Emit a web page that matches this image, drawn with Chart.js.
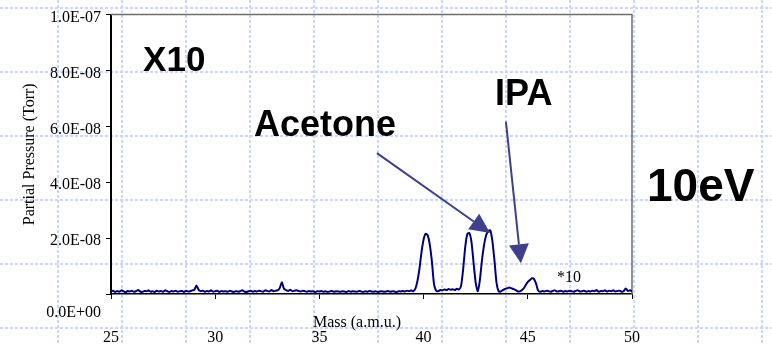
<!DOCTYPE html>
<html>
<head>
<meta charset="utf-8">
<script src="https://cdn.jsdelivr.net/npm/chart.js@4/dist/chart.umd.min.js"></script>
<style>
  html, body { margin: 0; padding: 0; background: #fff; }
  canvas { display: block; }
</style>
</head>
<body>
<canvas id="scan" width="772" height="345"></canvas>
<script>
// Mass scan sampling (a.m.u.)
const massStart = 25;
const massStep = 0.1;

// Partial pressure readings in 1E-09 Torr, one per 0.1 a.m.u. from 25.0 to 50.0
const pressure = [
  0.9, 1.2, 0.7, 1.1, 0.8, 1.3, 1.0, 0.6, 1.1, 0.9,   // 25
  1.2, 0.8, 1.0, 1.4, 0.9, 0.7, 1.1, 1.0, 1.3, 0.8,   // 26
  1.0, 0.7, 1.2, 0.9, 1.1, 0.8, 1.3, 1.0, 0.7, 1.1,   // 27
  0.9, 1.2, 0.8, 1.0, 1.1, 0.7, 1.2, 0.9, 1.0, 1.3,   // 28
  1.5, 3.0, 1.6, 1.0, 1.2, 0.8, 1.1, 0.9, 1.3, 0.8,   // 29
  1.0, 1.2, 0.7, 1.1, 0.9, 1.0, 0.8, 1.2, 0.9, 0.7,   // 30
  1.1, 0.8, 1.0, 1.3, 0.9, 0.7, 1.0, 1.2, 0.8, 1.1,   // 31
  0.9, 1.2, 1.0, 0.8, 1.3, 1.1, 0.9, 1.4, 1.0, 1.2,   // 32
  1.3, 2.2, 4.2, 1.9, 1.4, 1.1, 1.5, 1.0, 1.2, 1.3,   // 33
  1.1, 0.9, 1.2, 1.0, 0.8, 1.1, 0.9, 1.0, 0.7, 1.0,   // 34
  0.9, 1.1, 0.8, 1.0, 0.7, 0.9, 1.1, 0.8, 1.0, 0.9,   // 35
  0.8, 1.0, 0.9, 0.7, 1.1, 0.8, 1.0, 0.9, 0.8, 1.1,   // 36
  0.9, 0.7, 1.0, 0.8, 1.1, 0.9, 0.8, 1.0, 0.7, 0.9,   // 37
  1.0, 0.8, 0.9, 1.1, 0.8, 1.0, 0.9, 0.7, 1.0, 0.9,   // 38
  1.1, 0.9, 1.2, 1.0, 1.3, 1.0, 1.8, 4.5, 9.0, 15.0,  // 39
  19.5, 21.6, 21.0, 17.5, 11.5, 3.5, 1.2, 1.0, 1.4, 1.3, // 40
  1.6, 1.4, 1.8, 1.5, 1.7, 1.4, 1.9, 1.6, 3.0, 9.0,   // 41
  17.0, 21.5, 21.8, 18.5, 11.0, 4.0, 1.0, 5.0, 12.0, 17.5, // 42
  21.0, 22.5, 22.8, 19.0, 12.0, 4.0, 1.0, 0.9, 1.4, 1.8,   // 43
  2.0, 2.3, 2.1, 1.8, 1.5, 1.0, 0.9, 1.3, 2.0, 3.2,   // 44
  4.3, 5.0, 5.6, 5.3, 3.6, 1.2, 0.8, 1.1, 0.9, 1.2,   // 45
  1.0, 0.8, 1.1, 1.3, 0.9, 1.0, 1.2, 0.8, 1.1, 0.9,   // 46
  1.2, 1.0, 0.8, 1.1, 1.3, 0.9, 1.0, 1.2, 0.8, 1.1,   // 47
  0.9, 1.2, 1.0, 1.4, 0.8, 1.1, 1.0, 1.3, 0.9, 1.2,   // 48
  1.0, 1.3, 0.9, 1.1, 1.2, 0.8, 1.0, 2.0, 1.1, 1.3,   // 49
  1.0                                                // 50
];

// Axis ticks (mass in a.m.u., pressure in 1E-09 Torr) and their printed labels
const massTicks = [25, 30, 35, 40, 45, 50];
const pressureTicks = [0, 20, 40, 60, 80, 100];
const pressureTickLabels = ['0.0E+00', '2.0E-08', '4.0E-08', '6.0E-08', '8.0E-08', '1.0E-07'];

// Callout texts, anchored at (mass, pressure) positions
const calloutTexts = [
  { text: 'X10',     mass: 26.54, p: 79.8, size: 35 },
  { text: 'Acetone', mass: 31.86, p: 56.7, size: 36 },
  { text: 'IPA',     mass: 43.43, p: 67.7, size: 36 },
  { text: '10eV',    mass: 50.72, p: 33.3, size: 46 }
];
// Arrows pointing at the acetone and IPA peaks
const calloutArrows = [
  { from: [37.76, 50.4], to: [43.19, 21.8], head: 20, width: 19 },
  { from: [43.95, 61.7], to: [44.67, 11.0], head: 19, width: 20 }
];
// Gain note next to the IPA peak
const gainNote = { text: '*10', mass: 46.40, p: 4.3 };

const SANS = "'Liberation Sans', Arial, sans-serif";
const SERIF = "'Liberation Serif', 'Times New Roman', serif";

const points = pressure.map((p, i) => ({ x: +(massStart + i * massStep).toFixed(2), y: p }));

// Dotted slide grid behind everything
const slideGrid = {
  id: 'slideGrid',
  beforeDraw(chart) {
    const { ctx, width, height } = chart;
    ctx.save();
    ctx.fillStyle = '#ffffff';
    ctx.fillRect(0, 0, width, height);
    ctx.strokeStyle = '#cad6f6';
    ctx.lineWidth = 2;
    ctx.setLineDash([3, 2]);
    ctx.beginPath();
    for (let x = 58; x < width; x += 64) { ctx.moveTo(x, 0); ctx.lineTo(x, height); }
    for (let y = 8; y < height; y += 64) { ctx.moveTo(0, y); ctx.lineTo(width, y); }
    ctx.stroke();
    ctx.restore();
  }
};

// Grey frame on the top and right of the plot area
const plotFrame = {
  id: 'plotFrame',
  beforeDatasetsDraw(chart) {
    const { ctx, chartArea: a } = chart;
    ctx.save();
    ctx.strokeStyle = '#6e6e6e';
    ctx.lineWidth = 1.5;
    ctx.beginPath();
    ctx.moveTo(a.left, a.top);
    ctx.lineTo(a.right, a.top);
    ctx.lineTo(a.right, a.bottom);
    ctx.stroke();
    ctx.restore();
  }
};

// Callout labels, arrows and axis caption
const callouts = {
  id: 'callouts',
  afterDraw(chart) {
    const { ctx } = chart;
    const xs = chart.scales.x, ys = chart.scales.y;
    const px = m => xs.getPixelForValue(m);
    const py = p => ys.getPixelForValue(p);
    ctx.save();

    ctx.strokeStyle = '#3f408d';
    ctx.fillStyle = '#3f408d';
    ctx.lineWidth = 2;
    calloutArrows.forEach(a => {
      const x1 = px(a.from[0]), y1 = py(a.from[1]);
      const x2 = px(a.to[0]), y2 = py(a.to[1]);
      const ang = Math.atan2(y2 - y1, x2 - x1);
      const bx = x2 - a.head * Math.cos(ang), by = y2 - a.head * Math.sin(ang);
      ctx.beginPath();
      ctx.moveTo(x1, y1);
      ctx.lineTo(bx, by);
      ctx.stroke();
      const hw = a.width / 2;
      ctx.beginPath();
      ctx.moveTo(x2, y2);
      ctx.lineTo(bx + hw * Math.sin(ang), by - hw * Math.cos(ang));
      ctx.lineTo(bx - hw * Math.sin(ang), by + hw * Math.cos(ang));
      ctx.closePath();
      ctx.fill();
    });

    ctx.fillStyle = '#000';
    ctx.textAlign = 'left';
    ctx.textBaseline = 'alphabetic';
    calloutTexts.forEach(t => {
      ctx.font = `bold ${t.size}px ${SANS}`;
      ctx.fillText(t.text, px(t.mass), py(t.p));
    });

    ctx.font = `16px ${SERIF}`;
    ctx.fillText(gainNote.text, px(gainNote.mass), py(gainNote.p));

    // x-axis caption sits between the axis and its tick labels
    ctx.textBaseline = 'middle';
    ctx.fillText('Mass (a.m.u.)', 313, 323);
    ctx.restore();
  }
};

new Chart(document.getElementById('scan'), {
  type: 'line',
  data: {
    datasets: [{
      data: points,
      borderColor: '#00007f',
      borderWidth: 2,
      pointRadius: 0,
      fill: false,
      tension: 0.2
    }]
  },
  options: {
    responsive: false,
    animation: false,
    events: [],
    layout: { padding: { left: 0, top: 12, right: 140, bottom: 0 } },
    plugins: { legend: { display: false }, tooltip: { enabled: false } },
    scales: {
      x: {
        type: 'linear',
        min: massTicks[0],
        max: massTicks[massTicks.length - 1],
        afterBuildTicks: s => { s.ticks = massTicks.map(v => ({ value: v })); },
        afterFit: s => { s.height = 51; },
        ticks: {
          color: '#000',
          font: { family: SERIF, size: 16 },
          padding: 29,
          maxRotation: 0,
          autoSkip: false,
          callback: v => String(v)
        },
        grid: { display: true, drawOnChartArea: false, drawTicks: true, tickLength: 5, color: '#000', lineWidth: 1 },
        border: { display: true, color: '#000', width: 1.5 }
      },
      y: {
        type: 'linear',
        min: pressureTicks[0],
        max: pressureTicks[pressureTicks.length - 1],
        afterBuildTicks: s => { s.ticks = pressureTicks.map(v => ({ value: v })); },
        afterFit: s => { s.width = 111; },
        ticks: {
          color: '#000',
          padding: 5,
          labelOffset: 3,
          autoSkip: false,
          font: c => ({
            family: SERIF,
            size: 16,
            lineHeight: (c.tick && c.tick.value === 0) ? '16px' : 1.2
          }),
          callback: v => {
            const label = pressureTickLabels[pressureTicks.indexOf(v)];
            return v === 0 ? ['', '', label] : label;
          }
        },
        title: {
          display: true,
          text: 'Partial Pressure (Torr)',
          color: '#000',
          font: { family: SERIF, size: 16 },
          padding: { top: 20, bottom: 0 }
        },
        grid: { display: true, drawOnChartArea: false, drawTicks: true, tickLength: 5, color: '#000', lineWidth: 1 },
        border: { display: true, color: '#000', width: 2 }
      }
    }
  },
  plugins: [slideGrid, plotFrame, callouts]
});
</script>
</body>
</html>
